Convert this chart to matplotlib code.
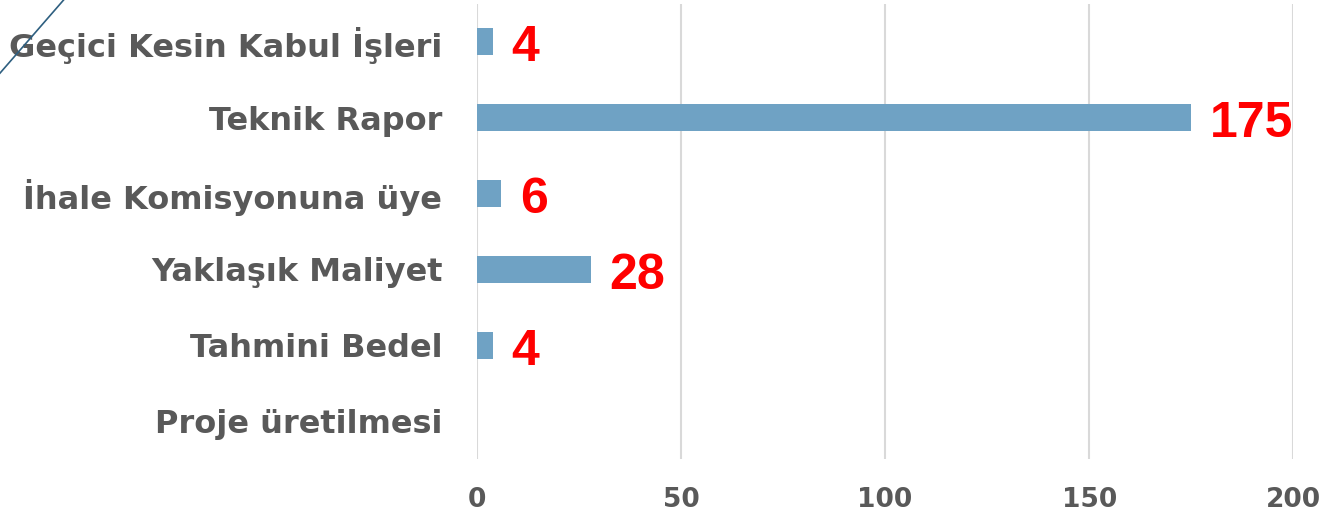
import matplotlib.pyplot as plt
from matplotlib.lines import Line2D

categories = ['Geçici Kesin Kabul İşleri', 'Teknik Rapor', 'İhale Komisyonuna üye',
              'Yaklaşık Maliyet', 'Tahmini Bedel', 'Proje üretilmesi']
values = [4, 175, 6, 28, 4, 0]
xticks = [0, 50, 100, 150, 200]

fig = plt.figure(figsize=(13.25, 5.15), dpi=100)
ax = fig.add_axes([0.36, 0.108, 0.616, 0.885])

ypos = list(range(len(categories)))
ax.barh(ypos, values, height=0.36, color='#6fa2c4', zorder=3)
for y, v in zip(ypos, values):
    if v > 0:
        ax.text(v + 4.5, y + 0.08, str(v), color='#ff0000', fontsize=36, fontweight='bold',
                family='Liberation Sans', va='center', ha='left')

ax.set_ylim(len(categories) - 0.5, -0.5)
ax.set_xlim(0, 200)
ax.set_yticks(ypos)
ax.set_yticklabels(categories, fontsize=23, fontweight='bold', color='#595959')
ax.set_xticks(xticks)
ax.set_xticklabels([str(t) for t in xticks], fontsize=19, fontweight='bold', color='#595959')
ax.tick_params(length=0, axis='y', pad=25)
ax.tick_params(length=0, axis='x', pad=20)
ax.grid(axis='x', color='#d9d9d9', linewidth=1.5, zorder=0)
for s in ax.spines.values():
    s.set_visible(False)

fig.add_artist(Line2D([0, 0.048], [0.858, 1.0], transform=fig.transFigure, color='#2e5f80', linewidth=1.2))

fig.savefig('out.png', dpi=100)
